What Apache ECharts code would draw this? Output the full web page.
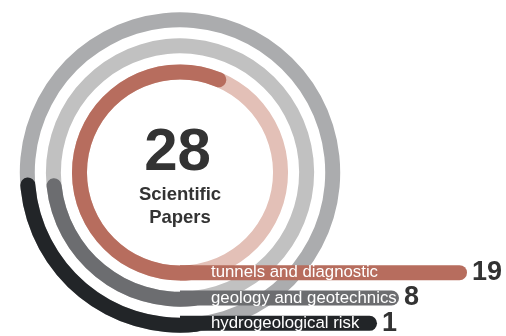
<!DOCTYPE html>
<html><head><meta charset="utf-8">
<script src="https://cdn.jsdelivr.net/npm/echarts@6/dist/echarts.min.js"></script>
<style>html,body{margin:0;padding:0;background:#fff}#c{width:506px;height:336px}</style>
</head><body><div id="c"></div>
<script>
const categories = ['tunnels and diagnostic', 'geology and geotechnics', 'hydrogeological risk'];
const counts = [19, 8, 1];
const arcSweepDeg = [208.7, 90, 91.3];   // curved part of each ring, degrees clockwise from the bottom
const barLengths = [287, 219, 197];      // straight tail of each ring
const colors = ['#b76d5e', '#6c6d70', '#222528'];
const trackColors = ['#e3c0b7', '#c1c1c1', '#abacae'];
const centerLines = ['Scientific', 'Papers'];
const total = counts.reduce((a, b) => a + b, 0);

const chart = echarts.init(document.getElementById('c'), null, {renderer: 'canvas'});
const font = 'Liberation Sans, Arial, Helvetica, sans-serif';
const polarCfg = {center: [180, 172.5], radius: [87.5, 165.75]};
const angleCfg = (i) => ({polarIndex: i, type: 'value', min: 0, max: 360, startAngle: -84, clockwise: true, show: false});
const radiusCfg = (i) => ({polarIndex: i, type: 'category', data: categories, show: false});
const gridCfg = {left: 180, top: 260, width: 300, height: 79};
const option = {
  animation: false,
  polar: [polarCfg, polarCfg],
  angleAxis: [angleCfg(0), angleCfg(1)],
  radiusAxis: [radiusCfg(0), radiusCfg(1)],
  grid: [gridCfg, gridCfg],
  xAxis: [0, 1].map(i => ({gridIndex: i, type: 'value', min: 0, max: 300, show: false})),
  yAxis: [0, 1].map(i => ({gridIndex: i, type: 'category', data: categories, inverse: true, show: false})),
  series: [
    {type: 'bar', coordinateSystem: 'polar', polarIndex: 0, barWidth: 15, silent: true, z: 1,
     data: trackColors.map(c => ({value: 360, itemStyle: {color: c}}))},
    {type: 'bar', coordinateSystem: 'polar', polarIndex: 1, barWidth: 15, roundCap: true, z: 2,
     data: arcSweepDeg.map((v, i) => ({value: v, itemStyle: {color: colors[i]}}))},
    {type: 'bar', xAxisIndex: 0, yAxisIndex: 0, barWidth: 15, z: 3,
     data: barLengths.map((v, i) => ({value: v, itemStyle: {color: colors[i], borderRadius: [0, 7.5, 7.5, 0]}})),
     label: {show: true, position: [31, '50%'], align: 'left', verticalAlign: 'middle',
             formatter: p => categories[p.dataIndex], color: '#fff', fontSize: 16.8, fontFamily: font}},
    {type: 'bar', xAxisIndex: 1, yAxisIndex: 1, barWidth: 15, z: 4,
     data: barLengths, itemStyle: {color: 'rgba(0,0,0,0)'},
     label: {show: true, position: 'right', distance: 5, formatter: p => String(counts[p.dataIndex]),
             fontSize: 27, fontWeight: 'bold', color: '#333', fontFamily: font}}
  ],
  graphic: [
    {type: 'text', x: 177.5, y: 153.5, z: 10, style: {text: String(total), font: 'bold 60px ' + font, fill: '#333', align: 'center', verticalAlign: 'middle'}},
    {type: 'text', x: 180, y: 194.5, z: 10, style: {text: centerLines[0], font: 'bold 18.5px ' + font, fill: '#333', align: 'center', verticalAlign: 'middle'}},
    {type: 'text', x: 180, y: 218, z: 10, style: {text: centerLines[1], font: 'bold 18.5px ' + font, fill: '#333', align: 'center', verticalAlign: 'middle'}}
  ]
};
chart.setOption(option);
</script></body></html>
